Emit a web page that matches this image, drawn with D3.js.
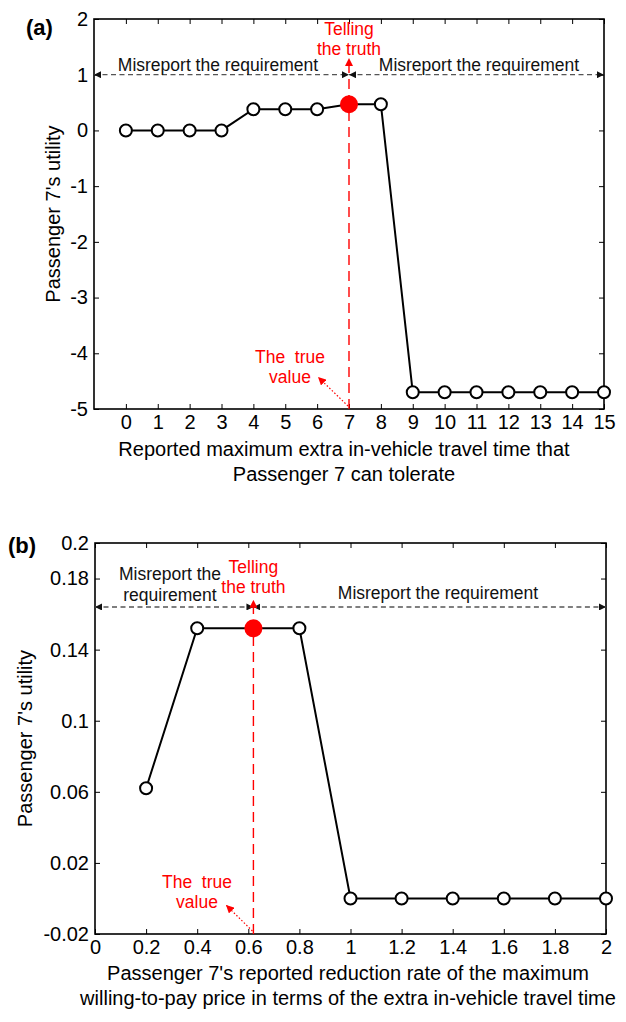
<!DOCTYPE html>
<html>
<head>
<meta charset="utf-8">
<script src="https://cdn.jsdelivr.net/npm/d3@7"></script>
<style>
  body { margin: 0; background: #fff; }
  svg { display: block; font-family: "Liberation Sans", Arial, Helvetica, sans-serif; }
</style>
</head>
<body>
<svg id="chart" width="626" height="1022"></svg>
<script>
// ---------- Panel (a) data ----------
const xA = [0, 1, 2, 3, 4, 5, 6, 7, 8, 9, 10, 11, 12, 13, 14, 15];
const yA = [0, 0, 0, 0, 0.38, 0.38, 0.38, 0.47, 0.47, -4.7, -4.7, -4.7, -4.7, -4.7, -4.7, -4.7];
const truthA = 7;
const xTicksA = [0, 1, 2, 3, 4, 5, 6, 7, 8, 9, 10, 11, 12, 13, 14, 15];
const yTicksA = [-5, -4, -3, -2, -1, 0, 1, 2];
const xDomainA = [-1, 15];
const yDomainA = [-5, 2];
const arrowYA = 1;
const truthArrowTopA = 1.3;

// ---------- Panel (b) data ----------
const xB = [0.2, 0.4, 0.62, 0.8, 1.0, 1.2, 1.4, 1.6, 1.8, 2.0];
const yB = [0.062, 0.152, 0.152, 0.152, 0, 0, 0, 0, 0, 0];
const truthB = 0.62;
const xTicksB = [0, 0.2, 0.4, 0.6, 0.8, 1, 1.2, 1.4, 1.6, 1.8, 2];
const yTicksB = [-0.02, 0.02, 0.06, 0.1, 0.14, 0.18, 0.2];
const xDomainB = [0, 2];
const yDomainB = [-0.02, 0.2];
const arrowYB = 0.164;
const truthArrowTopB = 0.168;

const svg = d3.select("#chart");

const defs = svg.append("defs");
defs.append("marker").attr("id", "blackArrow")
  .attr("viewBox", "0 0 10 10").attr("refX", 10).attr("refY", 5)
  .attr("markerWidth", 7).attr("markerHeight", 7).attr("markerUnits", "userSpaceOnUse")
  .attr("orient", "auto-start-reverse")
  .append("path").attr("d", "M0,0 L10,5 L0,10 Z").attr("fill", "#111");
defs.append("marker").attr("id", "redArrow")
  .attr("viewBox", "0 0 10 10").attr("refX", 10).attr("refY", 5)
  .attr("markerWidth", 8).attr("markerHeight", 8).attr("markerUnits", "userSpaceOnUse")
  .attr("orient", "auto-start-reverse")
  .append("path").attr("d", "M0,0 L10,5 L0,10 Z").attr("fill", "#ff0000");

function drawPanel(cfg) {
  const g = svg.append("g");
  const x = d3.scaleLinear().domain(cfg.xDomain).range([cfg.left, cfg.right]);
  const y = d3.scaleLinear().domain(cfg.yDomain).range([cfg.bottom, cfg.top]);

  // axes
  const fmt = d => String(d);
  const bottomAxis = g.append("g").attr("transform", `translate(0,${cfg.bottom})`)
    .call(d3.axisBottom(x).tickValues(cfg.xTicks).tickFormat(fmt).tickSizeInner(-5).tickSizeOuter(0).tickPadding(6));
  const leftAxis = g.append("g").attr("transform", `translate(${cfg.left},0)`)
    .call(d3.axisLeft(y).tickValues(cfg.yTicks).tickFormat(fmt).tickSizeInner(-5).tickSizeOuter(0).tickPadding(6));
  const topAxis = g.append("g").attr("transform", `translate(0,${cfg.top})`)
    .call(d3.axisTop(x).tickValues(cfg.xTicks).tickFormat("").tickSizeInner(-5).tickSizeOuter(0));
  const rightAxis = g.append("g").attr("transform", `translate(${cfg.right},0)`)
    .call(d3.axisRight(y).tickValues(cfg.yTicks).tickFormat("").tickSizeInner(-5).tickSizeOuter(0));
  [bottomAxis, leftAxis, topAxis, rightAxis].forEach(a => {
    a.select(".domain").remove();
    a.selectAll(".tick line").attr("stroke", "#000").attr("stroke-width", 1);
    a.selectAll("text").attr("font-size", 20).attr("fill", "#000")
      .attr("font-family", "'Liberation Sans', Arial, sans-serif");
  });
  g.append("rect").attr("x", cfg.left).attr("y", cfg.top)
    .attr("width", cfg.right - cfg.left).attr("height", cfg.bottom - cfg.top)
    .attr("fill", "none").attr("stroke", "#000").attr("stroke-width", 1.6);

  // panel label
  g.append("text").attr("x", cfg.labelX).attr("y", cfg.labelY)
    .attr("font-size", 22).attr("font-weight", "bold").text(cfg.label);

  // y title
  g.append("text")
    .attr("transform", `translate(${cfg.yTitleX},${(cfg.top + cfg.bottom) / 2}) rotate(-90)`)
    .attr("text-anchor", "middle").attr("font-size", 20).text("Passenger 7's utility");

  // x title lines
  cfg.xTitle.forEach((t, i) => {
    g.append("text").attr("x", cfg.xTitleX).attr("y", cfg.xTitleY + i * 25)
      .attr("text-anchor", "middle").attr("font-size", 20).text(t);
  });

  // dashed double arrows
  const ay = y(cfg.arrowY);
  const tx = x(cfg.truth);
  [[cfg.left, tx], [tx, cfg.right]].forEach(([a, b]) => {
    g.append("line").attr("x1", a).attr("x2", b).attr("y1", ay).attr("y2", ay)
      .attr("stroke", "#555").attr("stroke-width", 1.3).attr("stroke-dasharray", "5,3.5")
      .attr("marker-start", "url(#blackArrow)").attr("marker-end", "url(#blackArrow)");
  });

  // red vertical dashed line with arrow
  g.append("line").attr("x1", tx).attr("x2", tx).attr("y1", cfg.bottom).attr("y2", y(cfg.truthArrowTop))
    .attr("stroke", "#ff0000").attr("stroke-width", 1.4).attr("stroke-dasharray", "10,6")
    .attr("marker-end", "url(#redArrow)");

  // data line
  const pts = cfg.xs.map((d, i) => [d, cfg.ys[i]]);
  g.append("path").datum(pts)
    .attr("d", d3.line().x(d => x(d[0])).y(d => y(d[1])))
    .attr("fill", "none").attr("stroke", "#000").attr("stroke-width", 2);
  g.selectAll("circle.m").data(pts.filter(d => d[0] !== cfg.truth)).join("circle")
    .attr("class", "m").attr("cx", d => x(d[0])).attr("cy", d => y(d[1])).attr("r", 6)
    .attr("fill", "#fff").attr("stroke", "#000").attr("stroke-width", 2);
  g.selectAll("circle.t").data(pts.filter(d => d[0] === cfg.truth)).join("circle")
    .attr("class", "t").attr("cx", d => x(d[0])).attr("cy", d => y(d[1])).attr("r", 9)
    .attr("fill", "#ff0000");

  // red "Telling the truth"
  cfg.tellY.forEach((yy, i) => {
    g.append("text").attr("x", tx).attr("y", yy).attr("text-anchor", "middle")
      .attr("font-size", 17.5).attr("fill", "#ff0000").text(["Telling", "the truth"][i]);
  });

  // misreport labels
  cfg.misreport.forEach(m => {
    m.lines.forEach((t, i) => {
      g.append("text").attr("x", m.x).attr("y", m.y + i * 21).attr("text-anchor", "middle")
        .attr("font-size", 17.5).attr("fill", "#111").text(t);
    });
  });

  // "The true value"
  g.append("text").attr("x", cfg.trueX).attr("y", cfg.trueY).attr("text-anchor", "middle")
    .attr("font-size", 17.5).attr("fill", "#ff0000").attr("xml:space", "preserve").text("The  true");
  g.append("text").attr("x", cfg.trueX).attr("y", cfg.trueY + 20).attr("text-anchor", "middle")
    .attr("font-size", 17.5).attr("fill", "#ff0000").text("value");
  g.append("line").attr("x1", tx - 1).attr("y1", cfg.bottom - 3)
    .attr("x2", cfg.dotTipX).attr("y2", cfg.dotTipY)
    .attr("stroke", "#ff0000").attr("stroke-width", 1.2).attr("stroke-dasharray", "1.5,2")
    .attr("marker-end", "url(#redArrow)");
}

drawPanel({
  xs: xA, ys: yA, truth: truthA, xTicks: xTicksA, yTicks: yTicksA,
  xDomain: xDomainA, yDomain: yDomainA, arrowY: arrowYA, truthArrowTop: truthArrowTopA,
  left: 94, right: 604, top: 19, bottom: 409,
  label: "(a)", labelX: 26, labelY: 35, yTitleX: 60,
  xTitle: ["Reported maximum extra in-vehicle travel time that", "Passenger 7 can tolerate"],
  xTitleX: 344, xTitleY: 456,
  tellY: [35, 55],
  misreport: [{ x: 218, y: 71, lines: ["Misreport the requirement"] },
              { x: 479, y: 71, lines: ["Misreport the requirement"] }],
  trueX: 290, trueY: 363, dotTipX: 318, dotTipY: 377
});

drawPanel({
  xs: xB, ys: yB, truth: truthB, xTicks: xTicksB, yTicks: yTicksB,
  xDomain: xDomainB, yDomain: yDomainB, arrowY: arrowYB, truthArrowTop: truthArrowTopB,
  left: 95, right: 606, top: 543, bottom: 934,
  label: "(b)", labelX: 8, labelY: 553, yTitleX: 32,
  xTitle: ["Passenger 7's reported reduction rate of the maximum", "willing-to-pay price in terms of the extra in-vehicle travel time"],
  xTitleX: 348, xTitleY: 980,
  tellY: [573, 593],
  misreport: [{ x: 170, y: 580, lines: ["Misreport the", "requirement"] },
              { x: 438, y: 599, lines: ["Misreport the requirement"] }],
  trueX: 197, trueY: 888, dotTipX: 226, dotTipY: 905
});
</script>
</body>
</html>
